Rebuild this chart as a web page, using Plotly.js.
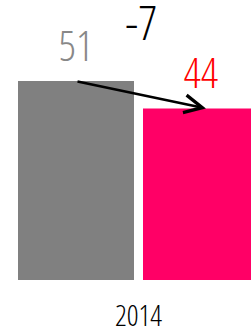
<!DOCTYPE html>
<html><head><meta charset="utf-8">
<script src="https://cdn.plot.ly/plotly-3.0.1.min.js"></script>
<style>html,body{margin:0;padding:0;background:#fff}#c{width:251px;height:333px}
#c text{font-stretch:condensed !important;}
#c .xtick text{font-stretch:semi-condensed !important;}</style>
</head><body><div id="c"></div>
<script>
const categories = ['2014'];
const seriesNames = ['Before', 'After'];
const valuesA = [51];
const valuesB = [44];
const colors = ['#808080', '#FF0066'];
const labelColors = ['#888888', '#FF0000'];
const FONT = '"Open Sans", sans-serif';

const diff = valuesB[0] - valuesA[0];
const traces = [
  {type:'bar', x:categories, y:valuesA, name:seriesNames[0], marker:{color:colors[0]}, hoverinfo:'none'},
  {type:'bar', x:categories, y:valuesB, name:seriesNames[1], marker:{color:colors[1]}, hoverinfo:'none'}
];
const layout = {
  width:251, height:333,
  margin:{l:0, r:0, t:0, b:53},
  barmode:'group', bargap:0, bargroupgap:0.072,
  showlegend:false,
  paper_bgcolor:'#fff', plot_bgcolor:'#fff',
  xaxis:{type:'category', range:[-0.554, 0.45], showgrid:false, zeroline:false, showline:false, ticks:'',
         ticklabelstandoff:16,
         tickfont:{family:FONT, size:29, color:'#000', weight:300}, fixedrange:true},
  yaxis:{range:[0, 71.8], visible:false, fixedrange:true},
  annotations:[
    {x:-0.25, y:valuesA[0], xref:'x', yref:'y', text:String(valuesA[0]), showarrow:false, yanchor:'bottom', yshift:6,
     font:{family:FONT, size:42, color:labelColors[0], weight:300}},
    {x:0.25, y:valuesB[0], xref:'x', yref:'y', text:String(valuesB[0]), showarrow:false, yanchor:'bottom', yshift:6,
     font:{family:FONT, size:42, color:labelColors[1], weight:300}},
    {x:0.01, y:valuesA[0], xref:'x', yref:'y', text:String(diff), showarrow:false, yanchor:'bottom', yshift:26,
     borderpad:0, font:{family:FONT, size:48, color:'#000', weight:350}},
    {x:0.27, y:valuesB[0], ax:-0.25, ay:valuesA[0], xref:'x', yref:'y', axref:'x', ayref:'y', text:'',
     showarrow:true, arrowhead:5, arrowsize:1.4, arrowwidth:2.5, arrowcolor:'#000', standoff:0}
  ]
};
Plotly.newPlot('c', traces, layout, {displayModeBar:false, staticPlot:true});
</script></body></html>
